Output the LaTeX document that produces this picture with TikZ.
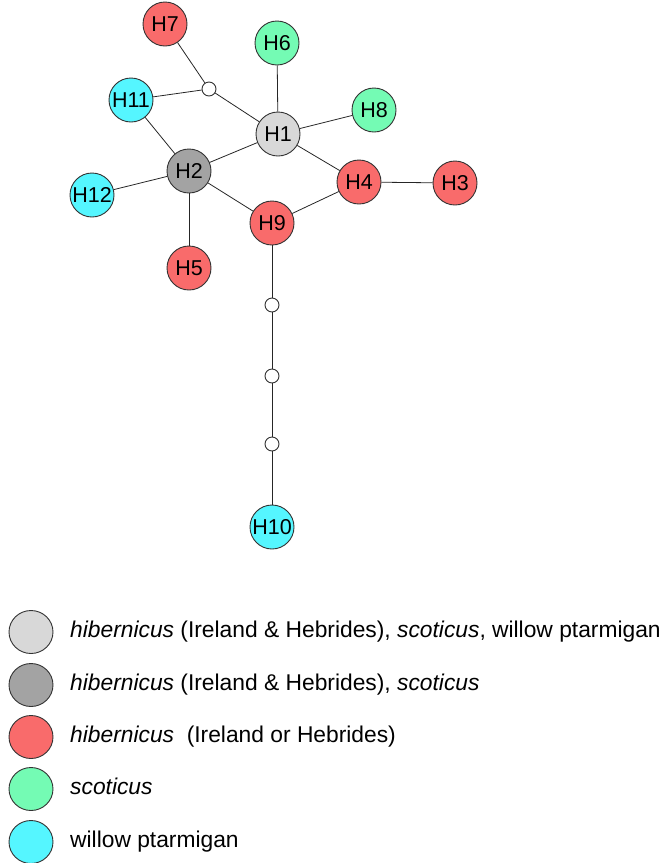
\documentclass[tikz,border=0pt]{standalone}
\usepackage{fontspec}
\setmainfont{Liberation Sans}
\usetikzlibrary{shapes.geometric}
\definecolor{hlight}{HTML}{D8D8D8}
\definecolor{hdark}{HTML}{A3A3A3}
\definecolor{hred}{HTML}{F96B6B}
\definecolor{hgreen}{HTML}{74FBB4}
\definecolor{hcyan}{HTML}{55F6FF}
\begin{document}
\begin{tikzpicture}[x=1pt,y=-1pt,
  hap/.style={circle,draw=black!80,line width=0.9pt,minimum size=44pt,inner sep=0pt,font=\fontsize{21.5}{24}\selectfont},
  med/.style={circle,draw=black!80,fill=white,line width=0.9pt,minimum size=14pt,inner sep=0pt},
  key/.style={ellipse,draw=black!80,line width=0.9pt,minimum width=44pt,minimum height=43pt,inner sep=0pt},
  keytext/.style={anchor=base west,inner sep=0pt,font=\fontsize{22.8}{26}\selectfont},
  link/.style={draw=black!85,line width=0.8pt}]
\useasboundingbox (0,0) rectangle (663,863);
% haplotype network
\node[hap,fill=hred]   (H7)  at (165,24)  {H7};
\node[hap,fill=hgreen] (H6)  at (277,43)  {H6};
\node[med]             (m1)  at (209,89)  {};
\node[hap,fill=hcyan]  (H11) at (131,100) {H11};
\node[hap,fill=hgreen] (H8)  at (374,110) {H8};
\node[hap,fill=hlight] (H1)  at (278,134) {H1};
\node[hap,fill=hdark]  (H2)  at (189,171) {H2};
\node[hap,fill=hred]   (H4)  at (359,182) {H4};
\node[hap,fill=hred]   (H3)  at (455,183) {H3};
\node[hap,fill=hcyan]  (H12) at (92,195)  {H12};
\node[hap,fill=hred]   (H9)  at (272,223) {H9};
\node[hap,fill=hred]   (H5)  at (189,268) {H5};
\node[med]             (m2)  at (272,305) {};
\node[med]             (m3)  at (272,376) {};
\node[med]             (m4)  at (272,444) {};
\node[hap,fill=hcyan]  (H10) at (272,527) {H10};
\draw[link] (H7) -- (m1);
\draw[link] (H11) -- (m1);
\draw[link] (m1) -- (H1);
\draw[link] (H6) -- (H1);
\draw[link] (H8) -- (H1);
\draw[link] (H1) -- (H2);
\draw[link] (H1) -- (H4);
\draw[link] (H4) -- (H3);
\draw[link] (H4) -- (H9);
\draw[link] (H2) -- (H11);
\draw[link] (H2) -- (H12);
\draw[link] (H2) -- (H9);
\draw[link] (H2) -- (H5);
\draw[link] (H9) -- (m2);
\draw[link] (m2) -- (m3);
\draw[link] (m3) -- (m4);
\draw[link] (m4) -- (H10);
% legend
\node[key,fill=hlight] (k1) at (31,632) {};
\node[key,fill=hdark]  (k2) at (31,685) {};
\node[key,fill=hred]   (k3) at (31,737) {};
\node[key,fill=hgreen] (k4) at (31,789) {};
\node[key,fill=hcyan]  (k5) at (31,842) {};
\node[keytext] (t1) at (70,637) {\textit{hibernicus} (Ireland \& Hebrides), \textit{scoticus}, willow ptarmigan};
\node[keytext] (t2) at (70,690) {\textit{hibernicus} (Ireland \& Hebrides), \textit{scoticus}};
\node[keytext] (t3) at (70,742) {\textit{hibernicus}\ \ (Ireland or Hebrides)};
\node[keytext] (t4) at (70,794) {\textit{scoticus}};
\node[keytext] (t5) at (70,847) {willow ptarmigan};
\end{tikzpicture}
\end{document}
